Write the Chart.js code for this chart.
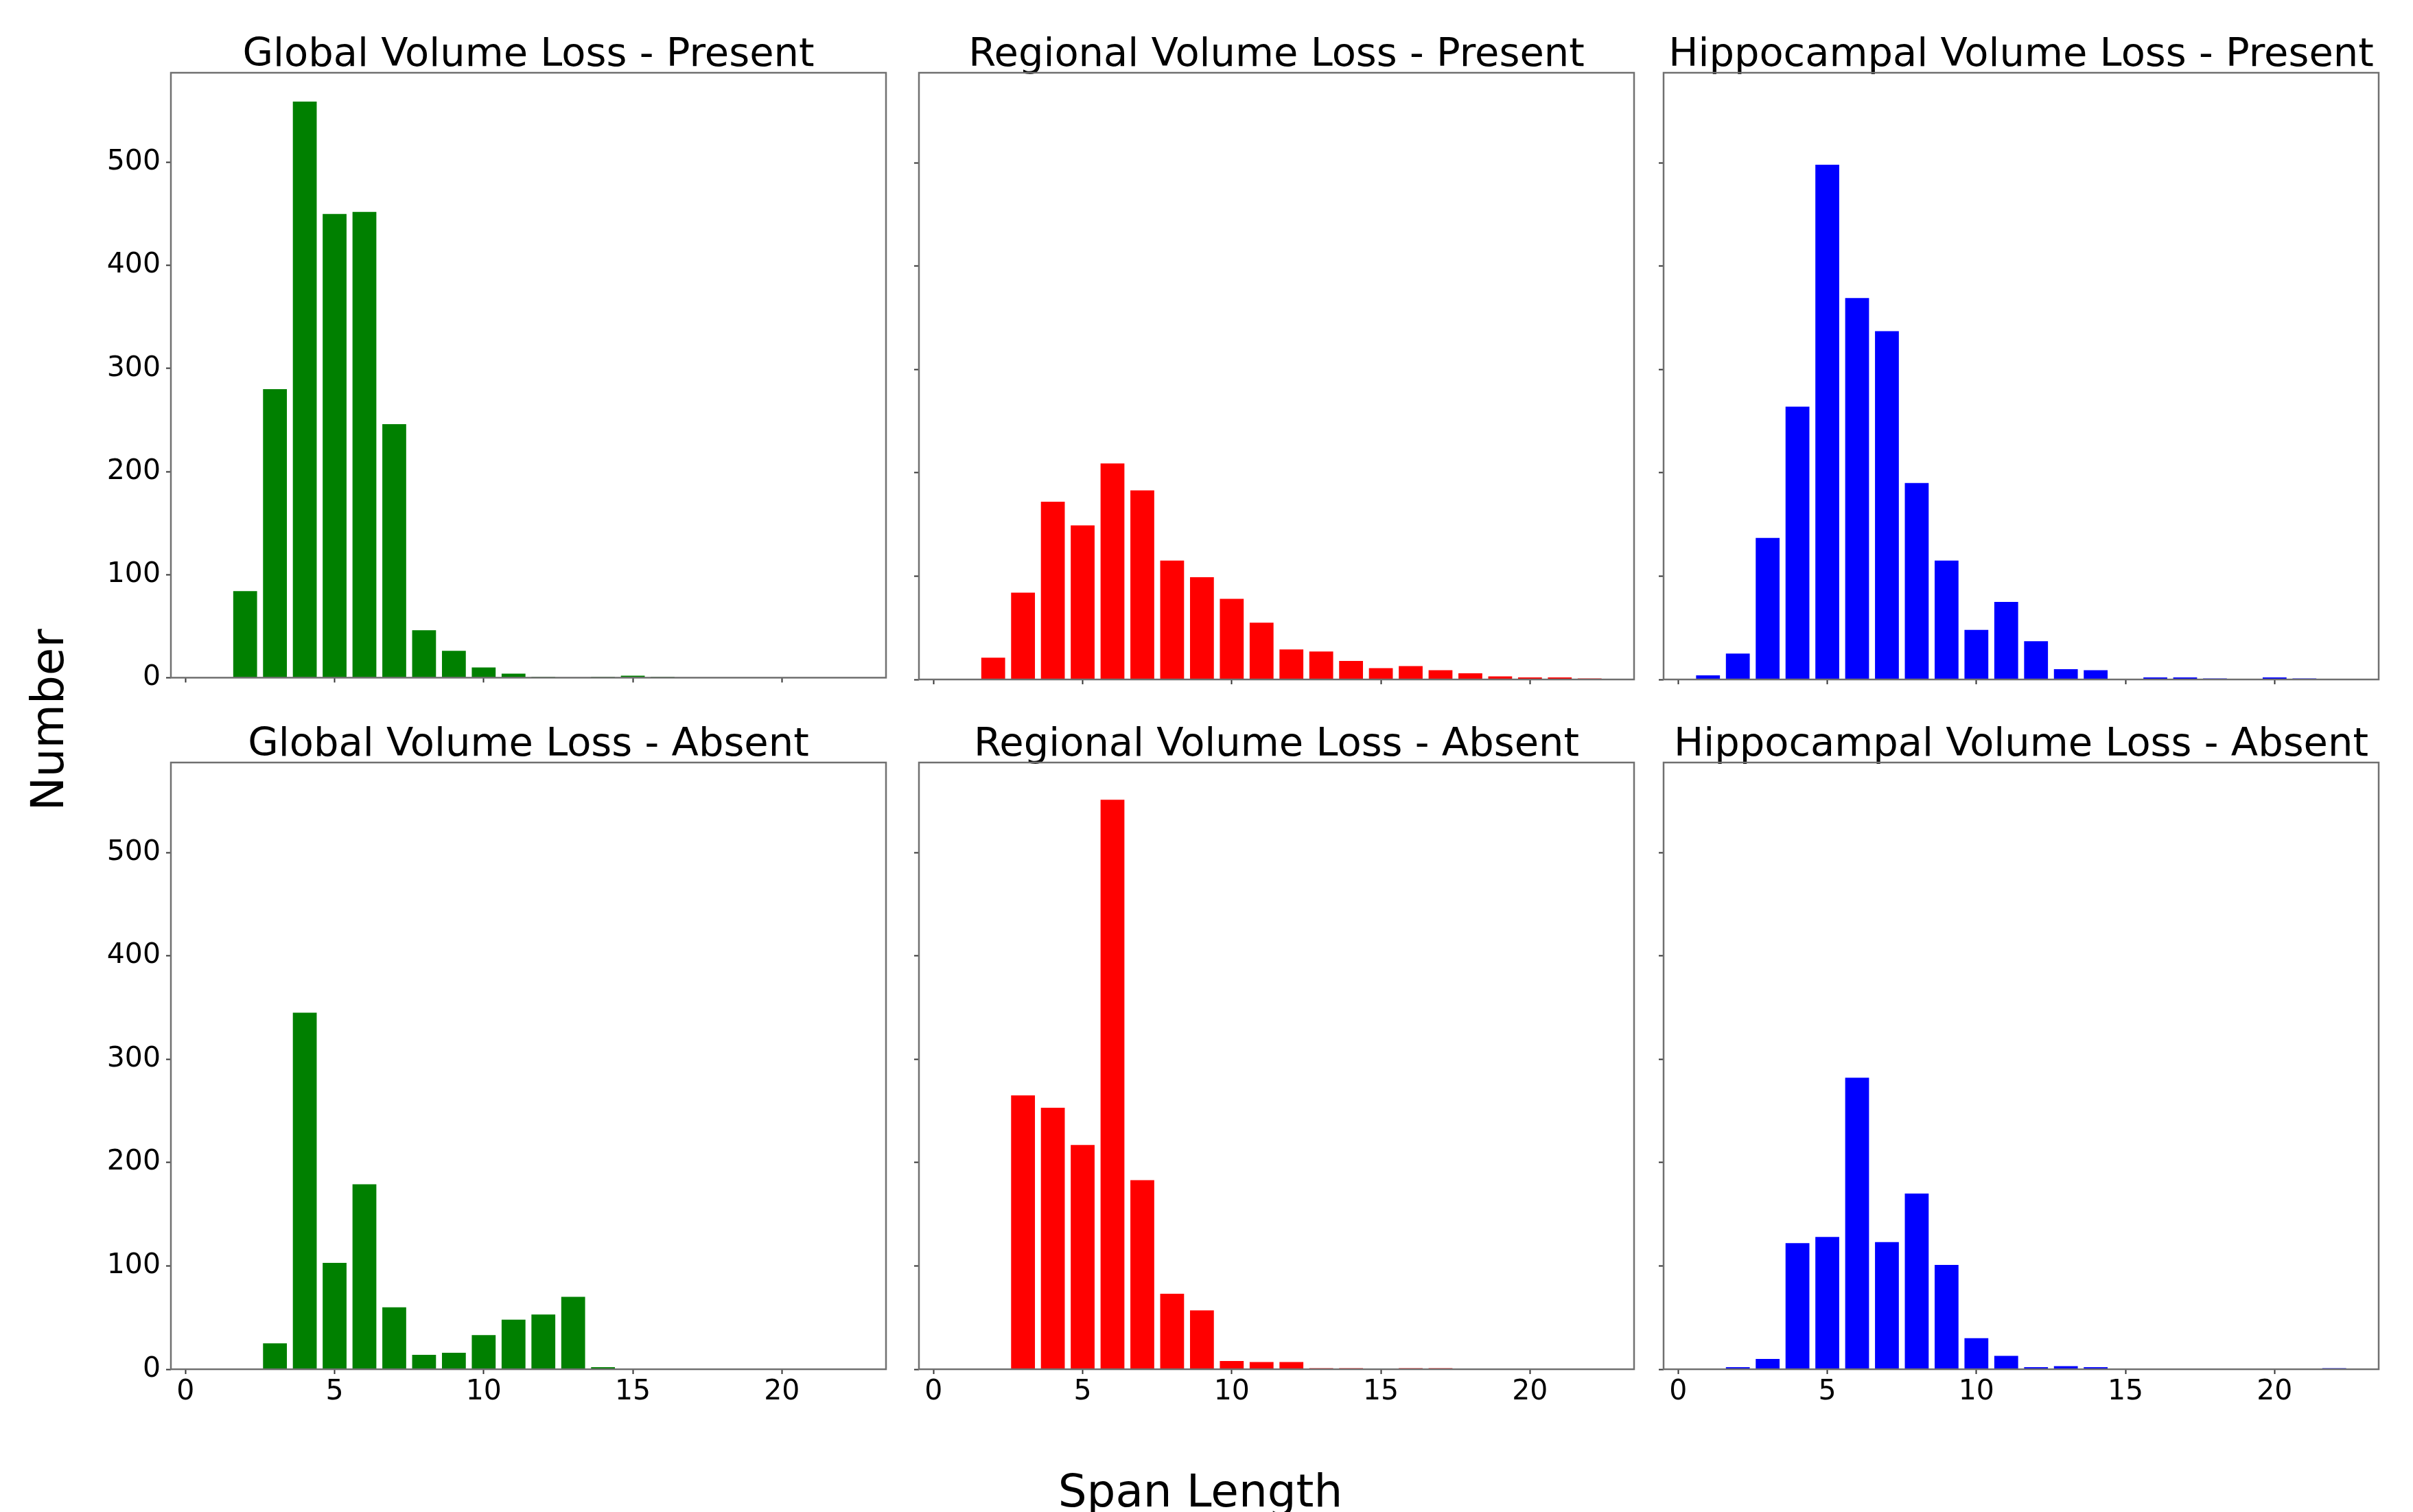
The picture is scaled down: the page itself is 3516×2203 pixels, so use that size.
<!DOCTYPE html>
<html>
<head>
<meta charset="utf-8">
<script src="https://cdn.jsdelivr.net/npm/chart.js@4.4.1/dist/chart.umd.min.js"></script>
<style>
  html, body { margin: 0; padding: 0; background: #ffffff; }
  body { width: 3516px; height: 2203px; position: relative; overflow: hidden; font-family: "DejaVu Sans", sans-serif; }
  canvas { position: absolute; }
  .figlabel { position: absolute; font-family: "DejaVu Sans", sans-serif; font-size: 66px; color: #000; white-space: nowrap; line-height: 66px; text-align: center; }
</style>
</head>
<body>
<div id="ylab" class="figlabel">Number</div>
<div id="xlab" class="figlabel">Span Length</div>
<script>
// ---- Data ----
const spanLengths = [1,2,3,4,5,6,7,8,9,10,11,12,13,14,15,16,17,18,19,20,21,22];

const globalPresent      = [0, 84, 280, 559, 450, 452, 246, 46, 26, 10, 4, 1, 0, 1, 2, 1, 0, 0, 0, 0, 0, 0];
const regionalPresent    = [0, 21, 84, 172, 149, 209, 183, 115, 99, 78, 55, 29, 27, 18, 11, 13, 9, 6, 3, 2, 2, 1];
const hippocampalPresent = [4, 25, 137, 264, 498, 369, 337, 190, 115, 48, 75, 37, 10, 9, 0, 2, 2, 1, 0, 2, 1, 0];
const globalAbsent       = [0, 0, 25, 345, 103, 179, 60, 14, 16, 33, 48, 53, 70, 2, 0, 0, 0, 0, 0, 0, 0, 0];
const regionalAbsent     = [0, 0, 265, 253, 217, 551, 183, 73, 57, 8, 7, 7, 1, 1, 0, 1, 1, 0, 0, 0, 0, 0];
const hippocampalAbsent  = [0, 2, 10, 122, 128, 282, 123, 170, 101, 30, 13, 2, 3, 2, 0, 0, 0, 0, 0, 0, 0, 1];

const panelTitles = [
  "Global Volume Loss - Present", "Regional Volume Loss - Present", "Hippocampal Volume Loss - Present",
  "Global Volume Loss - Absent", "Regional Volume Loss - Absent", "Hippocampal Volume Loss - Absent"
];
const panelSeries = [globalPresent, regionalPresent, hippocampalPresent, globalAbsent, regionalAbsent, hippocampalAbsent];
const panelColors = ["#008000", "#ff0000", "#0000ff", "#008000", "#ff0000", "#0000ff"];

const xTicks = [0, 5, 10, 15, 20];
const yTicks = [0, 100, 200, 300, 400, 500];
const xMin = -0.49, xMax = 23.49;
const yMin = 0, yMax = 587;

// ---- Layout ----
const colLeft = [249, 1339, 2424];
const colW = 1042;
const rowTop = [106, 1111];
const rowH = 884;
const padL = [130, 14, 14];
const titleSize = 57.5;
const titleLine = 50 / 57.5;
const titlePadTop = 4;
const titleBlock = titlePadTop + 50;
const padB = [30, 72];

const spineColor = "#707070";
const tickColor = "#333333";
const FONT = "'DejaVu Sans', sans-serif";

const framePlugin = {
  id: 'frame',
  afterDraw(chart) {
    const {ctx, chartArea: {left, top, right, bottom}} = chart;
    ctx.save();
    ctx.strokeStyle = spineColor;
    ctx.lineWidth = 2.5;
    ctx.strokeRect(left, top, right - left, bottom - top);
    ctx.restore();
  }
};

for (let i = 0; i < 6; i++) {
  const row = Math.floor(i / 3), col = i % 3;
  const L = padL[col], R = padL[col], B = padB[row];
  const cw = L + colW + R;
  const ch = titleBlock + rowH + B;
  const cv = document.createElement('canvas');
  cv.width = cw; cv.height = ch;
  cv.style.left = (colLeft[col] - L) + 'px';
  cv.style.top = (rowTop[row] - titleBlock) + 'px';
  cv.style.width = cw + 'px'; cv.style.height = ch + 'px';
  document.body.appendChild(cv);

  const showX = row === 1, showY = col === 0;
  const vals = panelSeries[i];

  new Chart(cv.getContext('2d'), {
    type: 'bar',
    data: {
      datasets: [{
        data: spanLengths.map((s, k) => ({x: s, y: vals[k]})),
        backgroundColor: panelColors[i],
        borderWidth: 0,
        barPercentage: 0.8,
        categoryPercentage: 1.0,
        xAxisID: 'x',
        yAxisID: 'y'
      }]
    },
    options: {
      responsive: false,
      animation: false,
      devicePixelRatio: 1,
      layout: { padding: 0 },
      plugins: {
        legend: { display: false },
        tooltip: { enabled: false },
        title: {
          display: true,
          text: panelTitles[i],
          color: '#000',
          font: { family: FONT, size: titleSize, weight: 'normal', lineHeight: titleLine },
          padding: { top: titlePadTop, bottom: 0 }
        }
      },
      scales: {
        x: {
          type: 'linear',
          min: xMin, max: xMax,
          offset: false,
          afterBuildTicks: s => { s.ticks = xTicks.map(v => ({value: v})); },
          afterFit: s => { s.height = B; },
          grid: { display: true, offset: false, drawOnChartArea: false, drawTicks: true, tickLength: 7, tickWidth: 2, tickColor: tickColor },
          border: { display: false },
          ticks: { display: showX, color: '#000', font: { family: FONT, size: 41 }, padding: 2, maxRotation: 0, autoSkip: false }
        },
        y: {
          type: 'linear',
          position: 'left',
          min: yMin, max: yMax,
          afterBuildTicks: s => { s.ticks = yTicks.map(v => ({value: v})); },
          afterFit: s => { s.width = L; },
          grid: { display: true, drawOnChartArea: false, drawTicks: true, tickLength: 7, tickWidth: 2, tickColor: tickColor },
          border: { display: false },
          ticks: { display: showY, color: '#000', font: { family: FONT, size: 41 }, padding: 8, autoSkip: false }
        },
        yRight: {
          type: 'linear',
          position: 'right',
          display: true,
          min: yMin, max: yMax,
          afterFit: s => { s.width = R; },
          grid: { display: false, drawTicks: false },
          border: { display: false },
          ticks: { display: false }
        }
      }
    },
    plugins: [framePlugin]
  });
}

// figure-level labels
const ylab = document.getElementById('ylab');
ylab.style.width = '400px';
ylab.style.left = (70 - 200) + 'px';
ylab.style.top = (1049 - 33) + 'px';
ylab.style.transform = 'rotate(-90deg)';

const xlab = document.getElementById('xlab');
xlab.style.width = '800px';
xlab.style.left = (1749 - 400) + 'px';
xlab.style.top = '2140px';
</script>
</body>
</html>
